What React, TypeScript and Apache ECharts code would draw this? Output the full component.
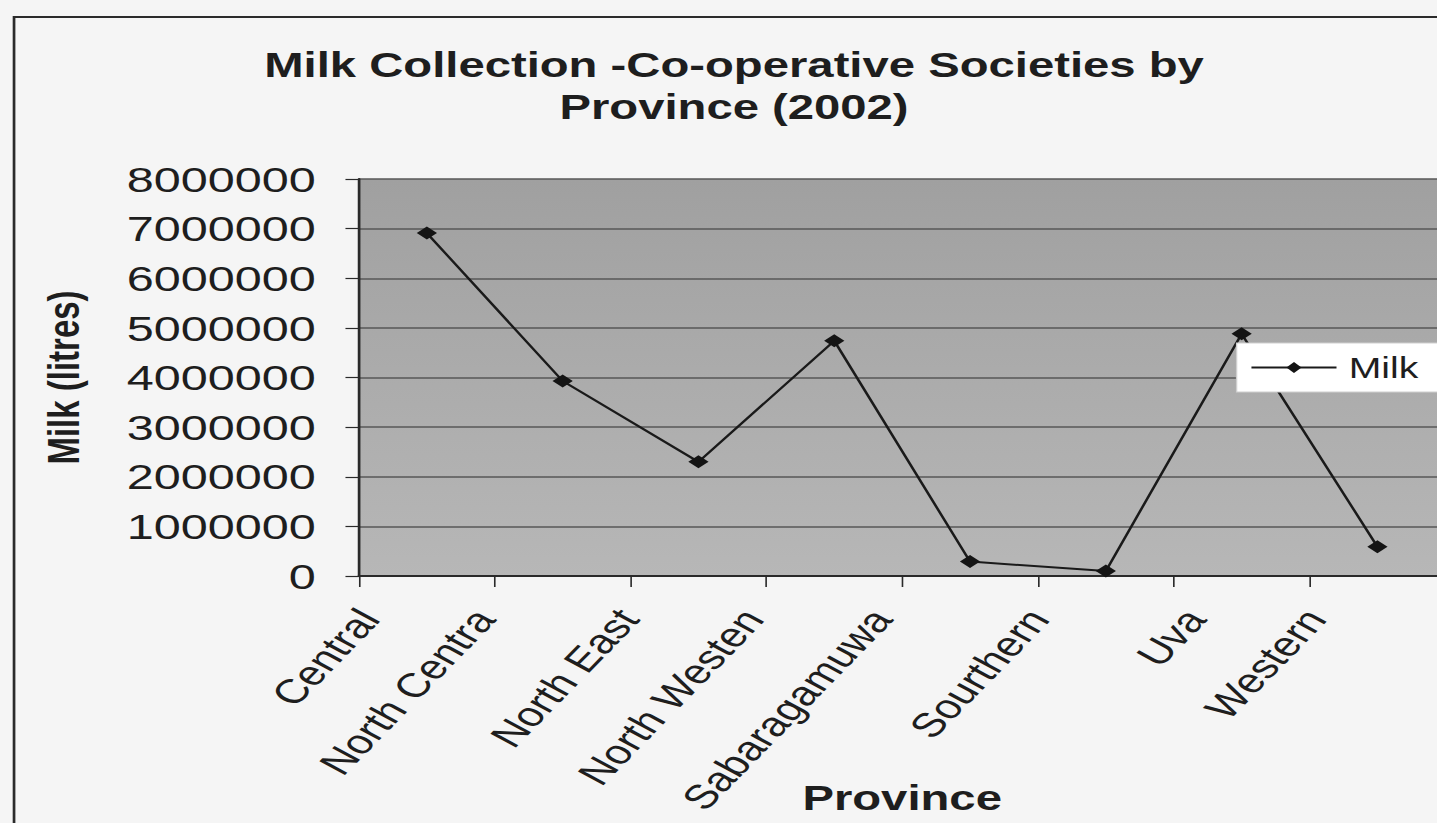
import { useEffect, useRef } from "react";
import * as echarts from "echarts";

// Milk collected by co-operative societies, per province, 2002 (litres)
const categories = [
  "Central",
  "North Centra",
  "North East",
  "North Westen",
  "Sabaragamuwa",
  "Sourthern",
  "Uva",
  "Western",
];
const milkLitres = [6910000, 3930000, 2300000, 4740000, 290000, 100000, 4880000, 590000];
const seriesName = "Milk";

// value axis ticks: 0 … 8 000 000 in steps of 1 000 000
const yMin = 0;
const yMax = 8000000;
const yStep = 1000000;

const FONT = '"Liberation Sans", Arial, Helvetica, sans-serif';
const STRETCH = 1.35; // the chart is drawn narrow and widened with a CSS scaleX
const PAGE_W = 1437;
const PAGE_H = 823;
const LABEL_SIZE = 34;
const LABEL_ANGLE = 54;

function textWidth(text: string, size: number): number {
  const ctx = document.createElement("canvas").getContext("2d");
  if (!ctx) return text.length * size * 0.55;
  ctx.font = `${size}px "Liberation Sans"`;
  return ctx.measureText(text).width;
}

export default function App() {
  const ref = useRef<HTMLDivElement>(null);

  useEffect(() => {
    if (!ref.current) return;
    const chart = echarts.init(ref.current, undefined, { renderer: "svg" });

    const plotLeft = 265.9;
    const plotTop = 179;
    const plotWidth = 804.7;
    const plotHeight = 397;
    const axisY = plotTop + plotHeight;

    chart.setOption({
      animation: false,
      backgroundColor: "transparent",
      title: {
        text: "Milk Collection -Co-operative Societies by\nProvince (2002)",
        left: 543.7,
        top: 44,
        textAlign: "center",
        padding: 0,
        textStyle: {
          fontFamily: FONT,
          fontSize: 35,
          fontWeight: "bold",
          color: "#1e1e1e",
          lineHeight: 42,
        },
      },
      legend: {
        data: [seriesName],
        left: 916,
        top: 343,
        padding: [10, 80, 10, 10],
        backgroundColor: "#ffffff",
        borderColor: "#cfcfcf",
        borderWidth: 1,
        itemWidth: 63,
        itemHeight: 14,
        textStyle: {
          fontFamily: FONT,
          fontSize: 29,
          color: "#1e1e1e",
          padding: [0, 0, 0, 4],
        },
      },
      grid: {
        left: plotLeft,
        top: plotTop,
        width: plotWidth,
        height: plotHeight,
        outerBoundsMode: "none",
        containLabel: false,
        show: true,
        borderWidth: 0,
        backgroundColor: new echarts.graphic.LinearGradient(0, 0, 0, 1, [
          { offset: 0, color: "#a0a0a0" },
          { offset: 1, color: "#b7b7b7" },
        ]),
      },
      xAxis: {
        type: "category",
        data: categories,
        boundaryGap: true,
        name: "Province",
        nameLocation: "middle",
        nameGap: 222,
        nameMoveOverlap: false,
        nameTextStyle: {
          fontFamily: FONT,
          fontSize: 35,
          fontWeight: "bold",
          color: "#1e1e1e",
          align: "center",
          verticalAlign: "middle",
        },
        axisLine: { show: true, lineStyle: { color: "#2a2a2a", width: 2 } },
        axisTick: { show: true, length: 11, lineStyle: { color: "#2a2a2a", width: 1.2 } },
        // category names are drawn below as rotated texts placed on the axis scale
        axisLabel: { show: false, interval: 0 },
        splitLine: { show: false },
      },
      yAxis: {
        type: "value",
        min: yMin,
        max: yMax,
        interval: yStep,
        name: "Milk (litres)",
        nameLocation: "middle",
        nameGap: 219,
        nameMoveOverlap: false,
        nameTextStyle: {
          fontFamily: FONT,
          fontSize: 33,
          fontWeight: "bold",
          color: "#1e1e1e",
          align: "center",
          verticalAlign: "middle",
        },
        axisLine: { show: true, lineStyle: { color: "#2a2a2a", width: 2 } },
        axisTick: { show: true, length: 10, lineStyle: { color: "#2a2a2a", width: 1.2 } },
        axisLabel: {
          margin: 32,
          fontFamily: FONT,
          fontSize: 36,
          color: "#1e1e1e",
          formatter: (v: number) => String(v),
        },
        splitLine: { show: true, lineStyle: { color: "#575757", width: 1.5 } },
      },
      series: [
        {
          name: seriesName,
          type: "line",
          data: milkLitres,
          symbol: "diamond",
          symbolSize: [15, 13],
          itemStyle: { color: "#141414" },
          lineStyle: { color: "#1a1a1a", width: 2 },
          z: 3,
        },
      ],
    });

    // Rotated category names: each one ends to the left of its category,
    // further for longer names, with all ends on one line below the axis.
    const rad = (LABEL_ANGLE * Math.PI) / 180;
    const cos = Math.cos(rad);
    const labelTexts = categories.map((name, i) => {
      const px = chart.convertToPixel({ xAxisIndex: 0 }, i) as number;
      const run = textWidth(name, LABEL_SIZE) * cos;
      return {
        type: "text",
        id: `cat-${i}`,
        silent: true,
        x: px - 23.7 - 0.3 * run,
        y: axisY + 37,
        rotation: rad,
        style: {
          text: name,
          align: "right",
          verticalAlign: "middle",
          font: `${LABEL_SIZE}px ${FONT}`,
          fill: "#1e1e1e",
        },
      };
    });

    chart.setOption({
      graphic: [
        {
          type: "rect",
          id: "frame",
          silent: true,
          z: -1,
          shape: { x: 10.4, y: 17, width: 1300, height: 1000 },
          style: { fill: "none", stroke: "#2b2b2b", lineWidth: 2 },
        },
        ...labelTexts,
      ],
    });

    return () => chart.dispose();
  }, []);

  return (
    <div
      style={{
        position: "fixed",
        left: 0,
        top: 0,
        width: PAGE_W,
        height: PAGE_H,
        overflow: "hidden",
        background: "#f5f5f5",
      }}
    >
      <div
        ref={ref}
        style={{
          width: Math.ceil(PAGE_W / STRETCH),
          height: PAGE_H,
          transform: `scaleX(${STRETCH})`,
          transformOrigin: "0 0",
        }}
      />
    </div>
  );
}
